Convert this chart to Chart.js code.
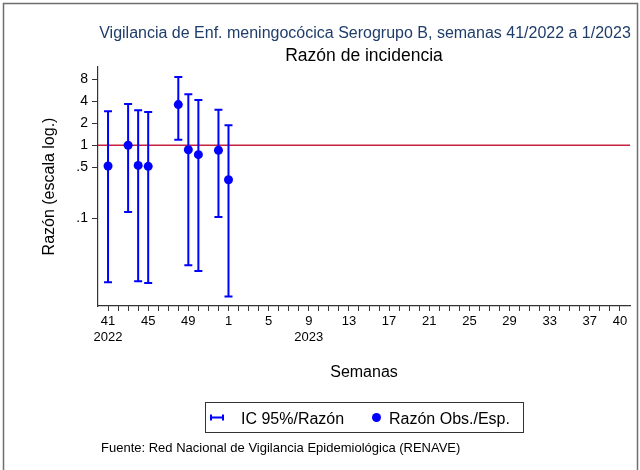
<!DOCTYPE html>
<html>
<head>
<meta charset="utf-8">
<script src="https://cdn.jsdelivr.net/npm/chart.js@4.4.1/dist/chart.umd.min.js"></script>
<style>
html,body{margin:0;padding:0;background:#fff;}
#wrap{width:640px;height:470px;position:relative;}
</style>
</head>
<body>
<div id="wrap"><canvas id="c" width="640" height="470"></canvas></div>
<script>
// ---- DATA ----
const weeks = ['41','42','43','44','45','46','47','48','49','50','51','52',
  '1','2','3','4','5','6','7','8','9','10','11','12','13','14','15','16','17','18','19','20',
  '21','22','23','24','25','26','27','28','29','30','31','32','33','34','35','36','37','38','39','40'];
const obsWeeks = ['41','43','44','45','48','49','50','52','1'];
const ratio  = [0.52, 1.0, 0.53, 0.515, 3.61, 0.87, 0.745, 0.855, 0.337];
const ciLow  = [0.0133, 0.122, 0.0137, 0.013, 1.19, 0.0227, 0.019, 0.104, 0.0085];
const ciHigh = [2.92, 3.68, 3.02, 2.86, 8.62, 5.0, 4.17, 3.08, 1.88];
const refValue = 1;
const yTicks = [8, 4, 2, 1, 0.5, 0.1];
const yTickLabels = ['8', '4', '2', '1', '.5', '.1'];
const xTickWeeks = ['41','45','49','1','5','9','13','17','21','25','29','33','37','40'];
const yearLabels = {'41': '2022', '9': '2023'};
const titleText = 'Vigilancia de Enf. meningocócica Serogrupo B, semanas 41/2022 a 1/2023';
const subtitleText = 'Razón de incidencia';
const yTitle = 'Razón (escala log.)';
const xTitle = 'Semanas';
const legendLabels = ['IC 95%/Razón', 'Razón Obs./Esp.'];
const footerText = 'Fuente: Red Nacional de Vigilancia Epidemiológica (RENAVE)';

// ---- STYLE ----
const FONT = "'Liberation Sans', Arial, sans-serif";
const BLUE = '#0000ff';
const RED = '#c8203f';
const AXIS = '#333333';
Chart.defaults.font.family = FONT;
Chart.defaults.color = '#000';

const points = obsWeeks.map((w, i) => ({x: weeks.indexOf(w), y: ratio[i]}));

const errorBars = {
  id: 'errorBars',
  beforeDatasetsDraw(chart) {
    const {ctx, chartArea, scales: {x, y}} = chart;
    ctx.save();
    // reference line
    const yr = y.getPixelForValue(refValue);
    ctx.strokeStyle = RED; ctx.lineWidth = 1.5;
    ctx.beginPath(); ctx.moveTo(chartArea.left, yr); ctx.lineTo(chartArea.right, yr); ctx.stroke();
    // error bars
    ctx.strokeStyle = BLUE; ctx.lineWidth = 2;
    obsWeeks.forEach((w, i) => {
      const px = x.getPixelForValue(weeks.indexOf(w));
      const pl = y.getPixelForValue(ciLow[i]);
      const ph = y.getPixelForValue(ciHigh[i]);
      ctx.beginPath();
      ctx.moveTo(px, pl); ctx.lineTo(px, ph);
      ctx.moveTo(px - 4, pl); ctx.lineTo(px + 4, pl);
      ctx.moveTo(px - 4, ph); ctx.lineTo(px + 4, ph);
      ctx.stroke();
    });
    ctx.restore();
  }
};

const decor = {
  id: 'decor',
  beforeDraw(chart) {
    const ctx = chart.ctx;
    ctx.save();
    ctx.fillStyle = '#fff';
    ctx.fillRect(0, 0, chart.width, chart.height);
    ctx.restore();
  },
  afterDraw(chart) {
    const {ctx, chartArea} = chart;
    const cx = (chartArea.left + chartArea.right) / 2;
    ctx.save();
    // frame
    ctx.strokeStyle = '#6e6e6e'; ctx.lineWidth = 1.5;
    ctx.beginPath();
    ctx.moveTo(3.5, 475); ctx.lineTo(3.5, 3.5); ctx.lineTo(637.5, 3.5); ctx.lineTo(637.5, 475);
    ctx.stroke();
    // titles
    ctx.textAlign = 'center'; ctx.textBaseline = 'alphabetic';
    ctx.fillStyle = '#1f3d6b';
    ctx.font = "16px " + FONT;
    ctx.fillText(titleText, cx + 1, 38);
    ctx.fillStyle = '#000';
    ctx.font = "17.5px " + FONT;
    ctx.fillText(subtitleText, cx, 61);
    // legend
    ctx.strokeStyle = AXIS; ctx.lineWidth = 1;
    ctx.strokeRect(205.5, 402.5, 318, 30);
    ctx.strokeStyle = BLUE; ctx.lineWidth = 2;
    ctx.beginPath();
    ctx.moveTo(211, 417.5); ctx.lineTo(223, 417.5);
    ctx.moveTo(211, 414.5); ctx.lineTo(211, 420.5);
    ctx.moveTo(223, 414.5); ctx.lineTo(223, 420.5);
    ctx.stroke();
    ctx.fillStyle = BLUE;
    ctx.beginPath(); ctx.arc(376.5, 417.5, 4.5, 0, Math.PI * 2); ctx.fill();
    ctx.fillStyle = '#000';
    ctx.textAlign = 'left';
    ctx.font = "16px " + FONT;
    ctx.fillText(legendLabels[0], 241, 423.5);
    ctx.fillText(legendLabels[1], 389, 423.5);
    // footer
    ctx.font = "13px " + FONT;
    ctx.fillText(footerText, 101, 452);
    ctx.restore();
  }
};

new Chart(document.getElementById('c'), {
  type: 'scatter',
  data: {
    datasets: [{
      label: legendLabels[1],
      data: points,
      backgroundColor: BLUE,
      borderColor: BLUE,
      borderWidth: 0,
      pointRadius: 4.5,
      pointHoverRadius: 4.5,
      showLine: false
    }]
  },
  options: {
    responsive: false,
    animation: false,
    events: [],
    layout: {padding: {left: 0, top: 67, right: 10, bottom: 80}},
    plugins: {legend: {display: false}, tooltip: {enabled: false}, title: {display: false}},
    scales: {
      x: {
        type: 'linear',
        min: -1, max: 52,
        afterBuildTicks: s => { s.ticks = weeks.map((w, i) => ({value: i})); },
        afterFit: s => { s.height = 84; },
        ticks: {
          autoSkip: false, maxRotation: 0, minRotation: 0, padding: 3,
          font: {size: 13}, color: '#000',
          callback: (v) => {
            const w = weeks[v];
            if (!xTickWeeks.includes(w)) return '';
            return yearLabels[w] ? [w, yearLabels[w]] : w;
          }
        },
        grid: {drawOnChartArea: false, drawTicks: true, tickLength: 5, color: AXIS, lineWidth: 1},
        border: {display: true, color: AXIS, width: 1.2},
        title: {display: true, text: xTitle, font: {size: 16}, color: '#000', padding: {top: 0, bottom: 8}}
      },
      y: {
        type: 'logarithmic',
        min: 0.00629, max: 11.82,
        afterBuildTicks: s => { s.ticks = yTicks.map(v => ({value: v})); },
        afterFit: s => { s.width = 98; },
        ticks: {
          padding: 4, font: {size: 14}, color: '#000',
          callback: (v) => { const k = yTicks.indexOf(v); return k >= 0 ? yTickLabels[k] : ''; }
        },
        grid: {drawOnChartArea: false, drawTicks: true, tickLength: 6, color: AXIS, lineWidth: 1},
        border: {display: true, color: AXIS, width: 1.2},
        title: {display: true, text: yTitle, font: {size: 16}, color: '#000', padding: {top: 40, bottom: 0}}
      }
    }
  },
  plugins: [errorBars, decor]
});
</script>
</body>
</html>
